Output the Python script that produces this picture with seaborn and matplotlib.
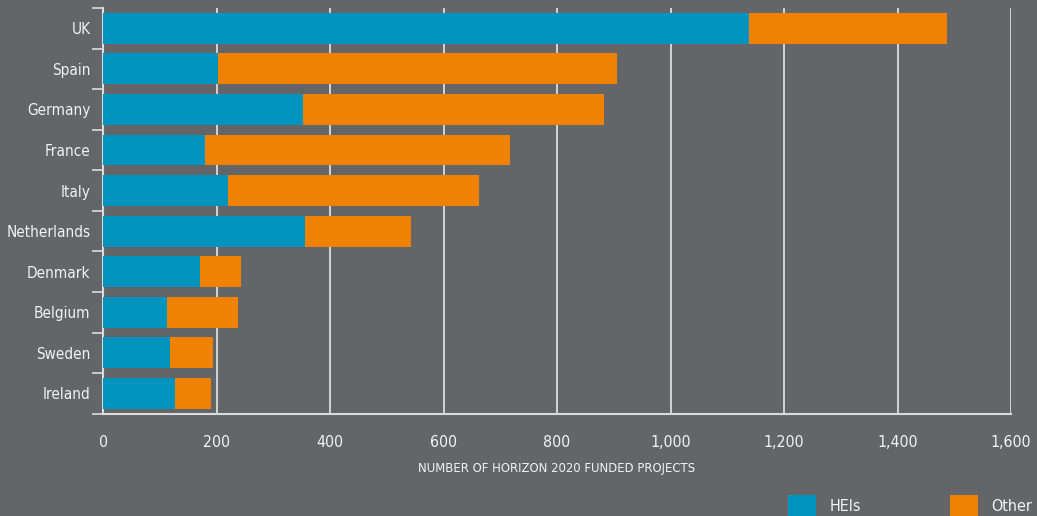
import matplotlib
matplotlib.use("Agg")
import matplotlib.pyplot as plt
from matplotlib.patches import Patch
from matplotlib.ticker import FuncFormatter, MultipleLocator, FixedLocator
import seaborn as sns
import pandas as pd

# Horizon 2020 funded projects by country
countries = ["UK", "Spain", "Germany", "France", "Italy", "Netherlands",
             "Denmark", "Belgium", "Sweden", "Ireland"]
heis = [1138, 203, 352, 180, 220, 356, 171, 113, 118, 127]
totals = [1487, 906, 883, 718, 663, 543, 243, 238, 194, 190]

BG = "#646569"
BLUE = "#0093be"
ORANGE = "#ef8200"
TXT = "#f2f2f2"
GRID = "#e6e6e6"

sns.set_theme(style="white")
plt.rcParams["font.family"] = ["DejaVu Sans"]
plt.rcParams["font.stretch"] = "condensed"

df = pd.DataFrame({"country": countries, "HEIs": heis, "Total": totals})

fig = plt.figure(figsize=(10.37, 5.16), dpi=100, facecolor=BG)
ax = fig.add_axes([103 / 1037, 1 - 413.7 / 516, (1011 - 103) / 1037, (413.7 - 8) / 516])
ax.set_facecolor(BG)

# Full bar length in orange, HEI share overlaid in blue
sns.barplot(data=df, y="country", x="Total", color=ORANGE, width=0.76,
            saturation=1, orient="h", ax=ax, zorder=3)
sns.barplot(data=df, y="country", x="HEIs", color=BLUE, width=0.76,
            saturation=1, orient="h", ax=ax, zorder=4)
for p in ax.patches:
    p.set_edgecolor("none")
    p.set_linewidth(0)

ax.set_xlim(0, 1600)
ax.set_ylim(9.5, -0.5)
ax.xaxis.set_major_locator(MultipleLocator(200))
ax.xaxis.set_major_formatter(FuncFormatter(lambda v, _: f"{int(v):,}"))
ax.grid(axis="x", color=GRID, linewidth=1.2, zorder=0)
ax.grid(axis="y", visible=False)
ax.set_axisbelow(True)

ax.set_ylabel("")
ax.set_xlabel("NUMBER OF HORIZON 2020 FUNDED PROJECTS", color=TXT, fontsize=9.4, labelpad=9)

for side in ("top", "right"):
    ax.spines[side].set_visible(False)
for side in ("left", "bottom"):
    ax.spines[side].set_visible(True)
    ax.spines[side].set_color("#dcdcdc")
    ax.spines[side].set_linewidth(1.5)

ax.tick_params(axis="x", colors="#dcdcdc", labelcolor=TXT, labelsize=11.4,
               length=7, width=1.2, direction="out", pad=8)
ax.tick_params(axis="y", which="major", length=0, labelcolor=TXT, labelsize=11, pad=9)
ax.yaxis.set_minor_locator(FixedLocator([i - 0.5 for i in range(len(countries) + 1)]))
ax.tick_params(axis="y", which="minor", left=True, length=8, width=1.2,
               color="#dcdcdc", direction="out")

handles = [Patch(facecolor=BLUE, edgecolor="none", label="HEIs"),
           Patch(facecolor=ORANGE, edgecolor="none", label="Other")]
fs = 11.5
px = fs * 100 / 72
fig.legend(handles=handles, loc="center left", bbox_to_anchor=(788 / 1037, 10 / 516),
           ncol=2, frameon=False, fontsize=fs, labelcolor=TXT,
           handlelength=28 / px, handleheight=28 / px, handletextpad=14 / px,
           columnspacing=88 / px, borderpad=0, borderaxespad=0)

fig.savefig("out.png", dpi=100, facecolor=BG)
